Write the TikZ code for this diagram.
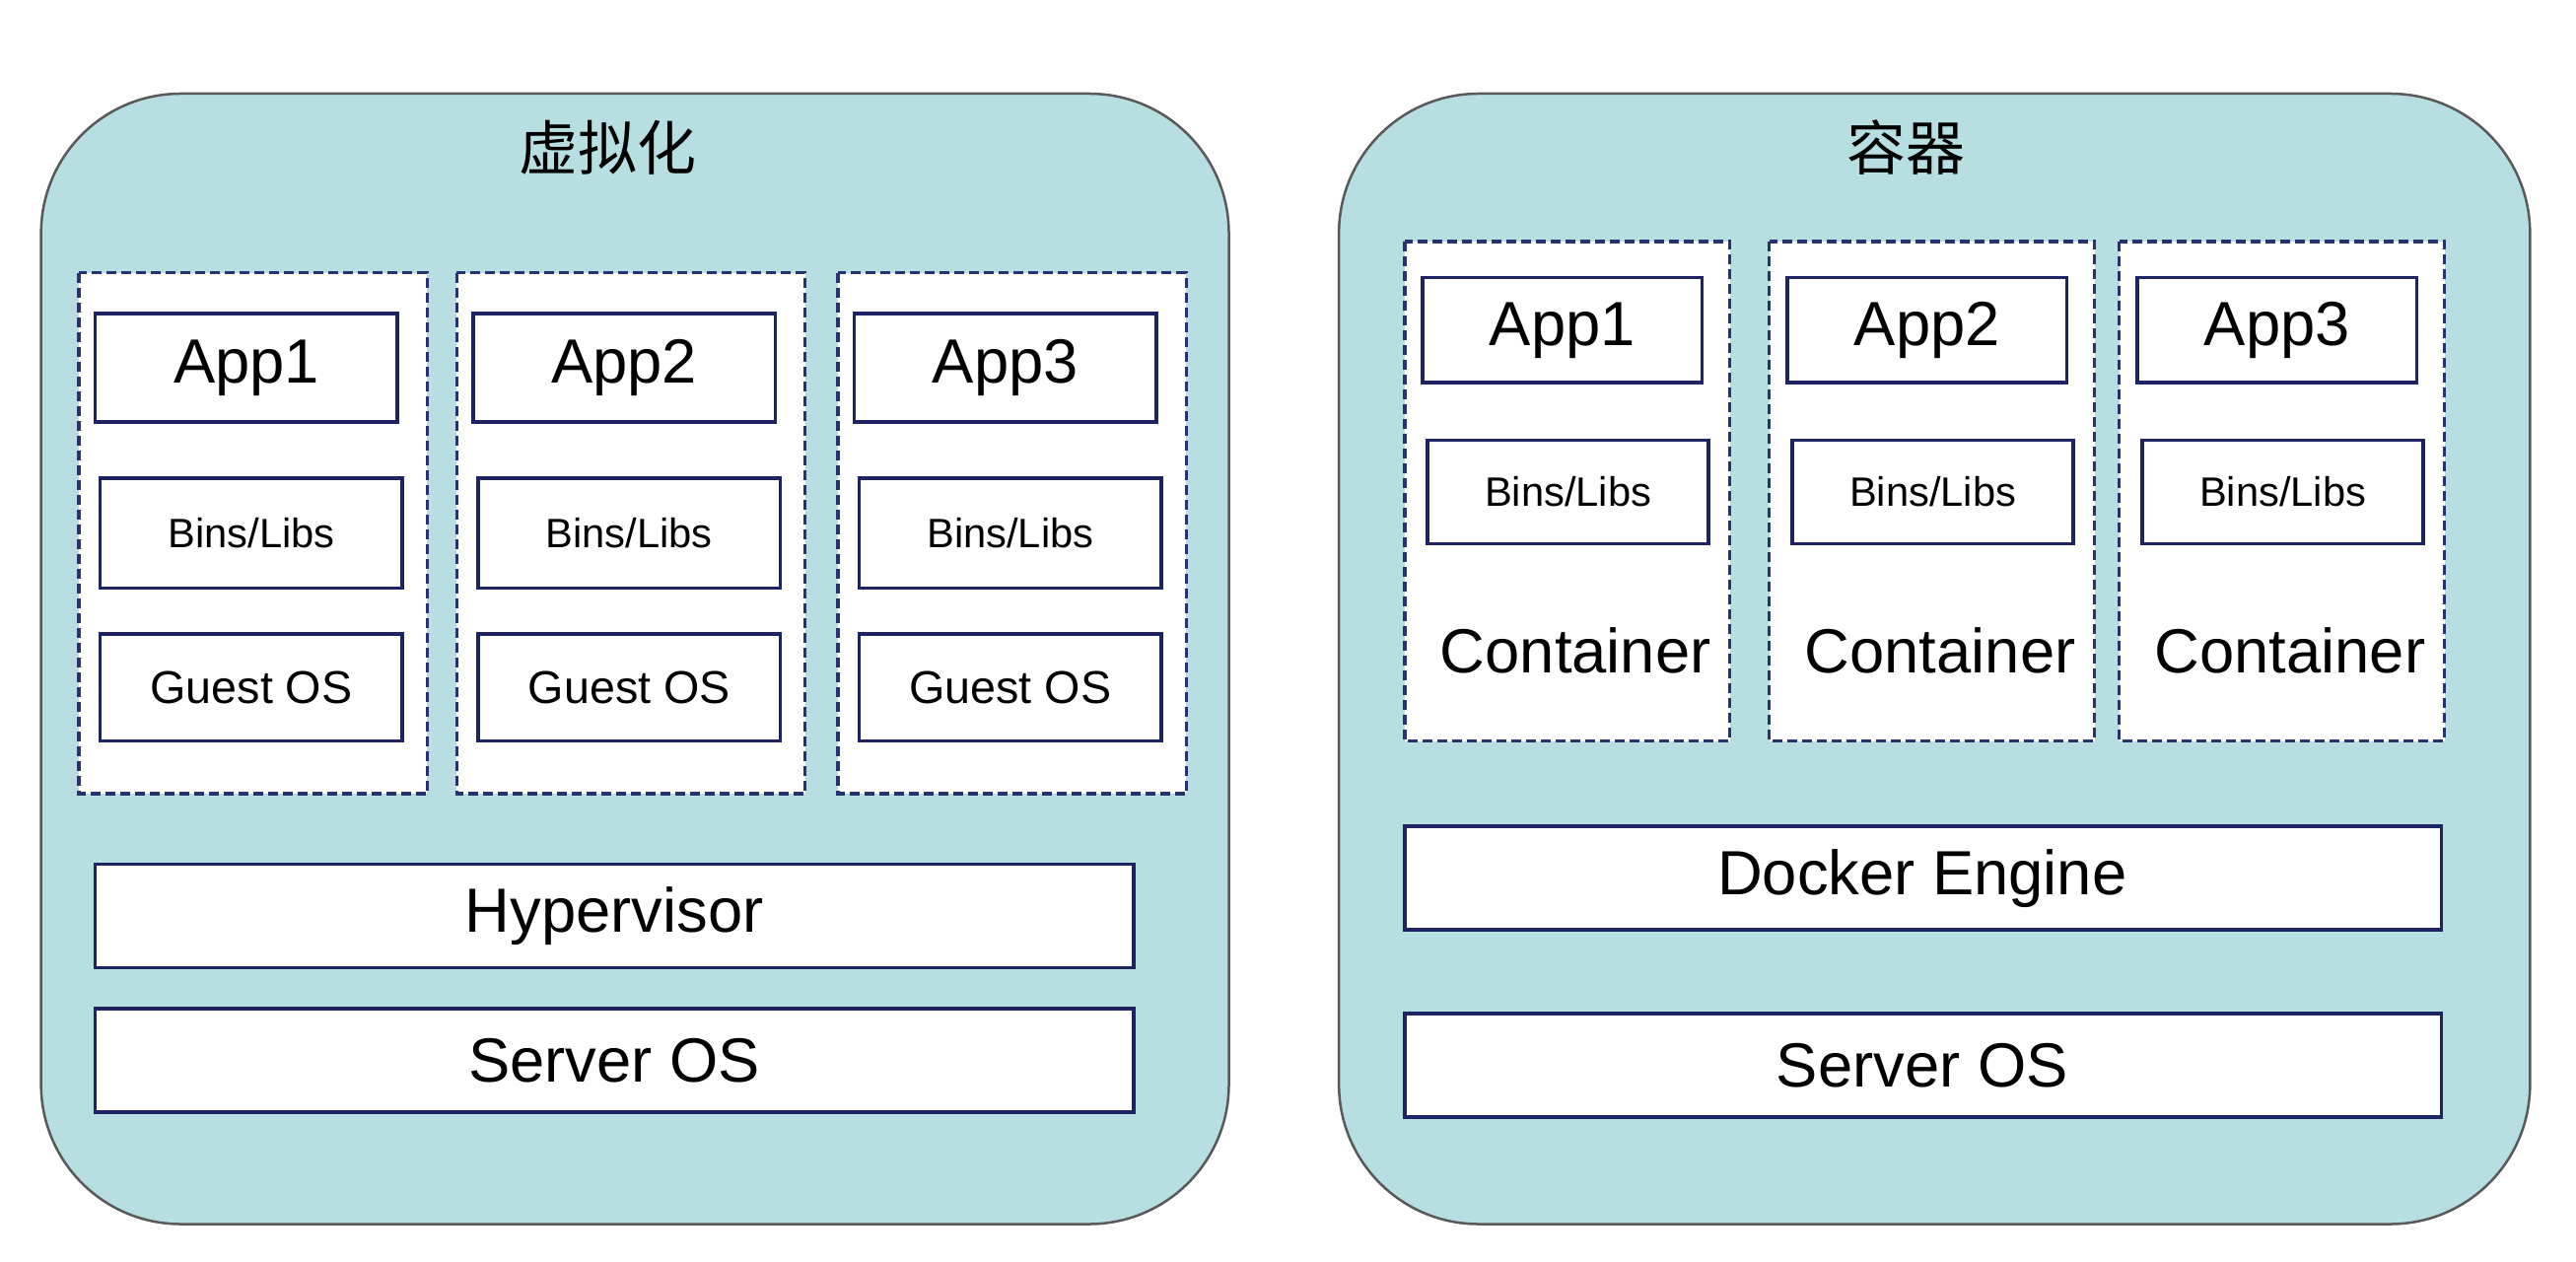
\documentclass[tikz,border=0pt]{standalone}
\usepackage{fontspec}
\setmainfont{Liberation Sans}
\newfontfamily\cjk{Noto Sans CJK SC}
\begin{document}
\begin{tikzpicture}[x=1pt,y=-1pt,
 outer/.style={draw=gray!70!black,line width=1.5pt,fill={rgb,255:red,183;green,223;blue,226},rounded corners=85pt},
 dbox/.style={draw={rgb,255:red,40;green,50;blue,110},line width=2pt,dash pattern=on 6pt off 3pt,fill=white},
 bx/.style={draw={rgb,255:red,30;green,35;blue,100},line width=2.2pt,fill=white},
 big/.style={font=\fontsize{38}{44}\selectfont},
 small/.style={font=\fontsize{25}{30}\selectfont}]
\useasboundingbox (0,0) rectangle (1568,768);
\fill[white] (0,0) rectangle (1568,768);
\draw[outer] (25,57) rectangle (748,745);
\draw[outer] (815,57) rectangle (1540,745);
\node[font=\cjk\fontsize{36}{42}\selectfont] (t1) at (370,90) {虚拟化};
\node[font=\cjk\fontsize{36}{42}\selectfont] (t2) at (1160,90) {容器};
\foreach \i/\x in {1/48,2/278,3/510}{
 \draw[dbox] (\x,166) rectangle ++(212,317);
 \draw[bx] (\x+10,191) rectangle ++(184,66);
 \node[big] (va\i) at (\x+102,224) {App\i};
 \draw[bx] (\x+13,291) rectangle ++(184,67);
 \node[small] (vb\i) at (\x+105,324.5) {Bins/Libs};
 \draw[bx] (\x+13,386) rectangle ++(184,65);
 \node[font=\fontsize{28}{33}\selectfont] (vg\i) at (\x+105,418.5) {Guest OS};
}
\draw[bx] (58,526) rectangle (690,589);
\node[big] (hv) at (374,557.5) {Hypervisor};
\draw[bx] (58,614) rectangle (690,677);
\node[big] (so1) at (374,645.5) {Server OS};
\foreach \i/\x in {1/855,2/1077,3/1290}{
 \draw[dbox] (\x,147) rectangle ++(198,304);
 \draw[bx] (\x+11,169) rectangle ++(170,64);
 \node[big] (ca\i) at (\x+96,201) {App\i};
 \draw[bx] (\x+14,268) rectangle ++(171,63);
 \node[small] (cb\i) at (\x+99.5,299.5) {Bins/Libs};
 \node[big] (cc\i) at (\x+104,396) {Container};
}
\draw[bx] (855,503) rectangle (1486,566);
\node[big] (de) at (1170,534.5) {Docker Engine};
\draw[bx] (855,617) rectangle (1486,680);
\node[big] (so2) at (1170,648.5) {Server OS};
\end{tikzpicture}
\end{document}
